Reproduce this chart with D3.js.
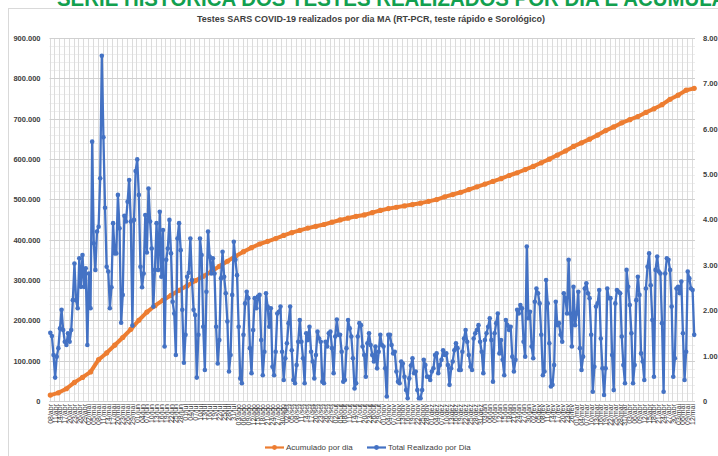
<!DOCTYPE html>
<html>
<head>
<meta charset="utf-8">
<script src="https://cdn.jsdelivr.net/npm/d3@7"></script>
<style>
  body { margin: 0; background: #fff; }
  svg { display: block; font-family: "Liberation Sans", Arial, sans-serif; }
</style>
</head>
<body>
<svg id="chart" width="718" height="456"></svg>
<script>
// daily tests (units as on the left axis)
var daily = [
  169,161,114,58,110,131,180,226,176,147,
  139,168,147,176,250,341,250,230,354,283,
  362,283,329,139,316,230,643,391,325,420,
  432,552,856,654,479,333,321,230,282,441,
  366,366,511,428,194,263,459,445,494,548,
  445,187,449,570,599,511,333,282,316,461,
  368,527,445,378,234,325,441,325,469,308,
  424,135,350,378,449,366,246,217,114,403,
  441,374,226,95,164,308,318,403,300,226,
  213,58,164,403,362,184,77,271,420,358,
  316,
  354,316,184,93,151,304,370,308,267,197,
  73,114,263,395,350,312,184,56,44,164,
  242,271,255,131,69,176,255,230,259,263,
  151,64,122,267,234,184,230,85,64,122,
  217,221,234,122,52,106,143,193,234,126,
  52,44,89,147,201,147,106,44,168,151,
  184,122,98,56,114,172,155,147,48,44,
  147,135,168,172,131,69,160,202,164,164,
  122,48,52,131,201,180,160,106,31,44,
  160,193,188,135,114,60,143,168,139,114,
  98,135,
  81,122,164,139,135,81,11,164,164,139,118,
  122,73,48,44,98,93,60,27,7,56,88,
  106,69,73,27,7,7,27,102,89,60,
  60,52,73,81,114,118,69,89,102,126,
  114,118,89,40,81,98,126,143,131,77,
  77,122,155,176,147,114,85,77,155,168,176,
  188,147,122,69,151,168,184,205,151,48,
  168,193,217,118,151,102,64,201,188,176,
  184,110,73,102,226,217,238,230,147,110,
  383,205,221,135,106,246,279,267,
  242,164,64,73,300,242,143,36,40,89,
  246,188,193,164,147,267,255,217,350,217,
  135,283,188,217,271,131,77,110,279,292,
  267,255,164,23,85,234,242,275,155,81,
  15,81,279,255,255,114,27,242,275,271,
  267,160,89,44,325,283,238,168,44,89,
  250,308,263,118,98,52,279,333,366,287,
  201,60,325,358,321,316,193,23,316,354,
  350,325,234,60,106,279,283,267,296,168,
  52,122,321,304,279,275,164
].map(function(v) { return v * 1000; });

// accumulated (right axis), one reading every accStep days
var accStep = 5;
var accumulated = [
  0.13,0.18,0.27,0.41,0.52,0.64,0.91,1.06,1.23,1.40,
  1.58,1.78,1.96,2.10,2.22,2.33,2.44,2.54,2.65,2.75,
  2.85,2.97,3.08,3.19,3.29,3.38,3.46,3.52,3.58,3.65,
  3.71,3.76,3.81,3.85,3.89,3.94,3.99,4.03,4.07,4.10,
  4.15,4.20,4.24,4.27,4.30,4.33,4.36,4.40,4.44,4.50,
  4.55,4.60,4.66,4.72,4.78,4.84,4.90,4.97,5.03,5.10,
  5.17,5.25,5.33,5.42,5.51,5.61,5.69,5.77,5.86,5.96,
  6.04,6.13,6.20,6.27,6.36,6.44,6.53,6.65,6.74,6.85,
  6.89
];

var leftTicks = [0,100000,200000,300000,400000,500000,600000,700000,800000,900000];
var rightTicks = [0,1,2,3,4,5,6,7,8];
var months = ["jan","fev","mar","abr","mai","jun","jul","ago","set","out","nov","dez"];
var firstDay = new Date(2020, 3, 8);
var labelEvery = 3;

var seriesNames = ["Acumulado por dia", "Total Realizado por Dia"];
var colors = { acc: "#ED7D31", daily: "#4472C4" };

var svg = d3.select("#chart");
var plot = { left: 49.5, right: 695, top: 38, bottom: 401 };

var n = daily.length;
var x = d3.scaleLinear().domain([-0.5, n - 0.5]).range([plot.left, plot.right]);
var yL = d3.scaleLinear().domain([0, 900000]).range([plot.bottom, plot.top]);
var yR = d3.scaleLinear().domain([0, 8]).range([plot.bottom, plot.top]);

// chart frame
svg.append("rect").attr("x", 8.5).attr("y", 8.5).attr("width", 730).attr("height", 470)
  .attr("fill", "none").attr("stroke", "#d9d9d9");

// big green heading, cut off at the top like in the source
svg.append("text").attr("x", 57).attr("y", 6)
  .attr("fill", "#12a04f").attr("font-size", 22).attr("font-weight", "bold")
  .attr("textLength", 700).attr("lengthAdjust", "spacingAndGlyphs")
  .text("SÉRIE HISTÓRICA DOS TESTES REALIZADOS POR DIA E ACUMULADO");

svg.append("text").attr("x", 371).attr("y", 21.5).attr("text-anchor", "middle")
  .attr("fill", "#404040").attr("font-size", 9.5).attr("font-weight", "bold")
  .attr("textLength", 348).attr("lengthAdjust", "spacingAndGlyphs")
  .text("Testes SARS COVID-19 realizados por dia MA (RT-PCR, teste rápido e Sorológico)");

// gridlines
var grid = svg.append("g");
grid.selectAll(".minor").data(d3.range(0, 900001, 20000).filter(function(v) { return v % 100000; }))
  .enter().append("line")
  .attr("x1", plot.left).attr("x2", plot.right)
  .attr("y1", function(d) { return Math.round(yL(d)) + 0.5; })
  .attr("y2", function(d) { return Math.round(yL(d)) + 0.5; })
  .attr("stroke", "#eeeeee");
grid.selectAll(".vert").data(d3.range(0, n + 1, labelEvery))
  .enter().append("line")
  .attr("x1", function(d) { return Math.round(x(d - 0.5)) + 0.5; })
  .attr("x2", function(d) { return Math.round(x(d - 0.5)) + 0.5; })
  .attr("y1", plot.top).attr("y2", plot.bottom)
  .attr("stroke", "#dcdcdc");
grid.selectAll(".major").data(leftTicks)
  .enter().append("line")
  .attr("x1", plot.left).attr("x2", plot.right)
  .attr("y1", function(d) { return Math.round(yL(d)) + 0.5; })
  .attr("y2", function(d) { return Math.round(yL(d)) + 0.5; })
  .attr("stroke", "#d0d0d0");

// axes
var fmtL = function(v) { return v === 0 ? "0" : d3.format(",")(v).replace(/,/g, "."); };
var fmtR = function(v) { return v === 0 ? "0" : v.toFixed(2); };

var axL = svg.append("g").attr("transform", "translate(" + (plot.left - 6) + ",0)")
  .call(d3.axisLeft(yL).tickValues(leftTicks).tickFormat(fmtL).tickSize(0));
var axR = svg.append("g").attr("transform", "translate(" + (plot.right + 5) + ",0)")
  .call(d3.axisRight(yR).tickValues(rightTicks).tickFormat(fmtR).tickSize(0));
[axL, axR].forEach(function(a) {
  a.select(".domain").remove();
  a.selectAll("text").attr("font-size", 7.5).attr("font-weight", "bold")
    .attr("fill", "#404040").attr("font-family", "Liberation Sans, Arial, sans-serif");
});

// date labels along the bottom
var labelIdx = d3.range(0, n, labelEvery);
svg.append("g").selectAll("text").data(labelIdx).enter().append("text")
  .attr("transform", function(d) { return "translate(" + (x(d) + 2.5) + "," + (plot.bottom + 3) + ") rotate(-90)"; })
  .attr("text-anchor", "end").attr("font-size", 7).attr("fill", "#333")
  .text(function(d) {
    var dt = d3.timeDay.offset(firstDay, d);
    return d3.timeFormat("%d")(dt) + "/" + months[dt.getMonth()];
  });

svg.append("line").attr("x1", plot.left).attr("x2", plot.right)
  .attr("y1", plot.bottom + 0.5).attr("y2", plot.bottom + 0.5).attr("stroke", "#d0d0d0");

// accumulated series
var accData = accumulated.map(function(v, i) { return [i * accStep, v]; });
svg.append("path").datum(accData)
  .attr("fill", "none").attr("stroke", colors.acc).attr("stroke-width", 4)
  .attr("stroke-linejoin", "round").attr("stroke-linecap", "round")
  .attr("d", d3.line().x(function(d) { return x(d[0]); }).y(function(d) { return yR(d[1]); }));
svg.append("g").selectAll("circle").data(accData).enter().append("circle")
  .attr("cx", function(d) { return x(d[0]); }).attr("cy", function(d) { return yR(d[1]); })
  .attr("r", 2.6).attr("fill", colors.acc);

// daily series
var line = d3.line().x(function(d, i) { return x(i); }).y(function(d) { return yL(d); });
svg.append("path").datum(daily)
  .attr("fill", "none").attr("stroke", colors.daily).attr("stroke-width", 2.3)
  .attr("stroke-linejoin", "round").attr("d", line);
svg.append("g").selectAll("circle").data(daily).enter().append("circle")
  .attr("cx", function(d, i) { return x(i); }).attr("cy", function(d) { return yL(d); })
  .attr("r", 2.3).attr("fill", colors.daily);

// legend
var legend = svg.append("g").attr("font-size", 8).attr("fill", "#404040");
var items = [
  { name: seriesNames[0], color: colors.acc, x: 265 },
  { name: seriesNames[1], color: colors.daily, x: 367 }
];
items.forEach(function(it) {
  var g = legend.append("g").attr("transform", "translate(" + it.x + ",447.5)");
  g.append("line").attr("x1", 0).attr("x2", 19).attr("stroke", it.color).attr("stroke-width", 2.2);
  g.append("circle").attr("cx", 9.5).attr("r", 2.4).attr("fill", it.color);
  g.append("text").attr("x", 21).attr("dy", "0.35em").text(it.name);
});
</script>
</body>
</html>
